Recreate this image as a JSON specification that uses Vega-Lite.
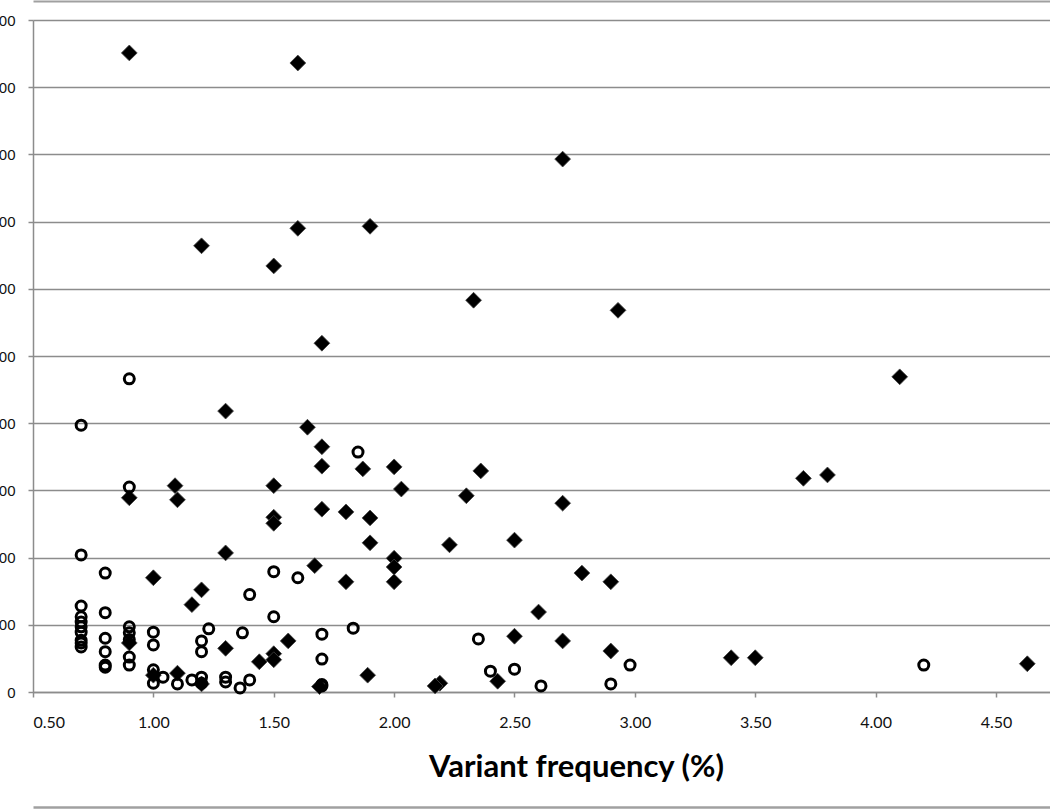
{
  "$schema": "https://vega.github.io/schema/vega-lite/v6.json",
  "width": 1017,
  "height": 672,
  "autosize": "none",
  "padding": {"left": 33, "top": 20, "right": 0, "bottom": 118},
  "background": "white",
  "config": {
    "view": {"stroke": null},
    "axis": {"domainColor": "#8c8c8c", "domainWidth": 1.5, "tickColor": "#8c8c8c", "tickWidth": 1.5, "tickSize": 5, "gridColor": "#8c8c8c", "gridWidth": 1.5, "labelColor": "#111"}
  },
  "datasets": {
    "diamonds": [
      {"freq": 0.90, "value": 951}, {"freq": 1.60, "value": 936}, {"freq": 2.70, "value": 793}, {"freq": 1.20, "value": 664},
      {"freq": 1.60, "value": 690}, {"freq": 1.90, "value": 693}, {"freq": 1.50, "value": 634}, {"freq": 2.33, "value": 583},
      {"freq": 2.93, "value": 568}, {"freq": 1.70, "value": 519}, {"freq": 1.30, "value": 418}, {"freq": 1.64, "value": 394},
      {"freq": 1.70, "value": 365}, {"freq": 1.70, "value": 336}, {"freq": 1.87, "value": 332}, {"freq": 2.00, "value": 335},
      {"freq": 2.36, "value": 329}, {"freq": 2.03, "value": 302}, {"freq": 2.30, "value": 292}, {"freq": 2.70, "value": 281},
      {"freq": 3.70, "value": 318}, {"freq": 3.80, "value": 323}, {"freq": 4.10, "value": 469}, {"freq": 1.09, "value": 307},
      {"freq": 0.90, "value": 289}, {"freq": 1.10, "value": 286}, {"freq": 1.50, "value": 307}, {"freq": 1.50, "value": 260},
      {"freq": 1.50, "value": 251}, {"freq": 1.70, "value": 272}, {"freq": 1.80, "value": 268}, {"freq": 1.90, "value": 259},
      {"freq": 1.90, "value": 222}, {"freq": 2.23, "value": 219}, {"freq": 2.50, "value": 226}, {"freq": 1.30, "value": 207},
      {"freq": 2.00, "value": 199}, {"freq": 2.00, "value": 186}, {"freq": 2.00, "value": 164}, {"freq": 1.80, "value": 164},
      {"freq": 1.67, "value": 188}, {"freq": 1.00, "value": 170}, {"freq": 1.20, "value": 152}, {"freq": 1.16, "value": 130},
      {"freq": 2.78, "value": 177}, {"freq": 2.90, "value": 164}, {"freq": 2.60, "value": 119}, {"freq": 1.56, "value": 76},
      {"freq": 1.50, "value": 57}, {"freq": 1.50, "value": 48}, {"freq": 1.44, "value": 45}, {"freq": 1.30, "value": 65},
      {"freq": 2.50, "value": 83}, {"freq": 2.70, "value": 76}, {"freq": 2.90, "value": 61}, {"freq": 3.40, "value": 51},
      {"freq": 3.50, "value": 51}, {"freq": 4.63, "value": 42}, {"freq": 1.89, "value": 25}, {"freq": 1.10, "value": 28},
      {"freq": 1.00, "value": 25}, {"freq": 2.19, "value": 13}, {"freq": 2.17, "value": 9}, {"freq": 2.43, "value": 16},
      {"freq": 0.90, "value": 73}, {"freq": 1.69, "value": 8}, {"freq": 1.20, "value": 12}
    ],
    "circles": [
      {"freq": 0.90, "value": 466}, {"freq": 0.70, "value": 397}, {"freq": 0.90, "value": 305}, {"freq": 1.85, "value": 357},
      {"freq": 0.70, "value": 204}, {"freq": 0.80, "value": 177}, {"freq": 1.50, "value": 179}, {"freq": 1.60, "value": 170},
      {"freq": 1.40, "value": 145}, {"freq": 1.50, "value": 112}, {"freq": 1.83, "value": 95}, {"freq": 1.70, "value": 86},
      {"freq": 1.37, "value": 88}, {"freq": 1.23, "value": 94}, {"freq": 1.20, "value": 76}, {"freq": 1.20, "value": 60},
      {"freq": 1.00, "value": 89}, {"freq": 1.00, "value": 70}, {"freq": 1.00, "value": 33}, {"freq": 1.00, "value": 13},
      {"freq": 0.90, "value": 97}, {"freq": 0.90, "value": 88}, {"freq": 0.90, "value": 78}, {"freq": 0.90, "value": 52},
      {"freq": 0.90, "value": 40}, {"freq": 0.80, "value": 118}, {"freq": 0.80, "value": 80}, {"freq": 0.80, "value": 60},
      {"freq": 0.80, "value": 40}, {"freq": 0.80, "value": 37}, {"freq": 0.70, "value": 128}, {"freq": 0.70, "value": 112},
      {"freq": 0.70, "value": 104}, {"freq": 0.70, "value": 97}, {"freq": 0.70, "value": 89}, {"freq": 0.70, "value": 77},
      {"freq": 0.70, "value": 73}, {"freq": 0.70, "value": 67}, {"freq": 1.04, "value": 22}, {"freq": 1.10, "value": 12},
      {"freq": 1.16, "value": 18}, {"freq": 1.20, "value": 22}, {"freq": 1.20, "value": 13}, {"freq": 1.30, "value": 22},
      {"freq": 1.30, "value": 15}, {"freq": 1.36, "value": 6}, {"freq": 1.40, "value": 18}, {"freq": 1.70, "value": 49},
      {"freq": 1.70, "value": 9}, {"freq": 1.70, "value": 11}, {"freq": 2.35, "value": 79}, {"freq": 2.40, "value": 31},
      {"freq": 2.50, "value": 34}, {"freq": 2.61, "value": 9}, {"freq": 2.90, "value": 12}, {"freq": 2.98, "value": 40},
      {"freq": 4.20, "value": 40}
    ]
  },
  "layer": [
    {
      "data": {"name": "diamonds"},
      "mark": {"type": "point", "shape": "diamond", "filled": true, "size": 250, "color": "#000", "opacity": 1, "stroke": "#444", "strokeWidth": 0.8},
      "encoding": {
        "x": {
          "field": "freq", "type": "quantitative",
          "scale": {"domain": [0.5, 4.7243], "nice": false, "zero": false},
          "axis": {
            "orient": "bottom", "values": [0.5, 1, 1.5, 2, 2.5, 3, 3.5, 4, 4.5], "format": ".2f",
            "grid": false, "labelFont": "Lato", "labelFontSize": 16, "labelPadding": 17,
            "title": "Variant frequency (%)", "titleFont": "Lato", "titleFontWeight": "bold", "titleFontSize": 31,
            "titleColor": "#000", "titleX": 543, "titleY": 84, "titleBaseline": "alphabetic", "titleAlign": "center", "titleAnchor": null
          }
        },
        "y": {
          "field": "value", "type": "quantitative",
          "scale": {"domain": [0, 1000], "nice": false},
          "axis": {
            "values": [0, 100, 200, 300, 400, 500, 600, 700, 800, 900, 1000],
            "grid": true, "labelFont": "Liberation Sans", "labelFontSize": 15, "labelPadding": 13, "title": null
          }
        }
      }
    },
    {
      "data": {"name": "circles"},
      "mark": {"type": "point", "shape": "circle", "filled": false, "size": 100, "strokeWidth": 3, "color": "#000", "opacity": 1},
      "encoding": {
        "x": {
          "field": "freq", "type": "quantitative",
          "axis": {"orient": "top", "offset": 19, "domain": true, "domainColor": "#a0a0a0", "domainWidth": 2, "ticks": false, "labels": false, "grid": false, "title": null}
        },
        "y": {"field": "value", "type": "quantitative"}
      }
    },
    {
      "data": {"name": "circles"},
      "mark": {"type": "point", "shape": "circle", "filled": false, "size": 100, "strokeWidth": 3, "color": "#000", "opacity": 0},
      "encoding": {
        "x": {
          "field": "freq", "type": "quantitative",
          "axis": {"orient": "bottom", "offset": 115, "domain": true, "domainColor": "#a0a0a0", "domainWidth": 2.5, "ticks": false, "labels": false, "grid": false, "title": null}
        },
        "y": {"field": "value", "type": "quantitative"}
      }
    }
  ],
  "resolve": {"axis": {"x": "independent"}}
}
